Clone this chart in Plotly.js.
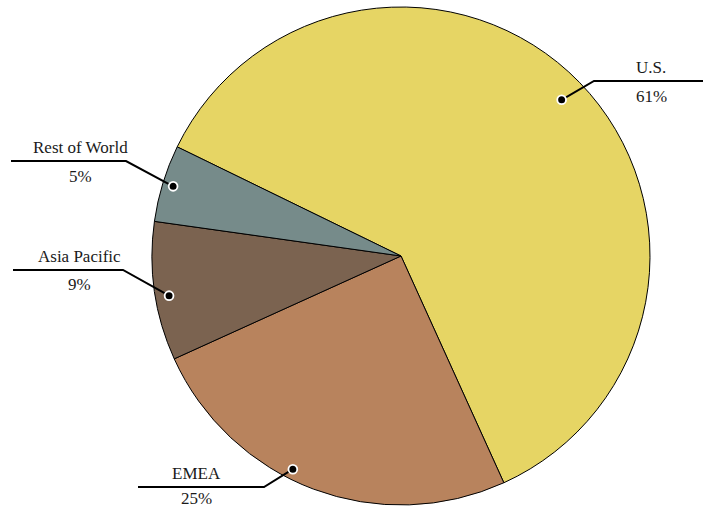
<!DOCTYPE html>
<html>
<head>
<meta charset="utf-8">
<script src="https://cdn.plot.ly/plotly-3.0.1.min.js"></script>
<style>html,body{margin:0;padding:0;background:#fff;}#chart{width:707px;height:508px;}</style>
</head>
<body>
<div id="chart"></div>
<script>
// ---- data ----
const regions = ['U.S.', 'EMEA', 'Asia Pacific', 'Rest of World'];
const shares = [61, 25, 9, 5];
const shareLabels = ['61%', '25%', '9%', '5%'];
const sliceColors = ['#E6D564', '#B8835D', '#7B6350', '#768B8A'];

// ---- layout constants ----
const W = 707, H = 508;
const cx = 401, cy = 256, R = 249;
const rotation = 296;
// per-label leader styling: dot radius fraction, angular nudge, elbow point, line end x, text positions
const leader = [
  {rf: 0.90, da: 0,    ex: 594, ey: 81,  endx: 703, tx: 651, ty1: 67,  ty2: 96},
  {rf: 0.96, da: 6.3,  ex: 264, ey: 487, endx: 138, tx: 196, ty1: 473, ty2: 498},
  {rf: 0.945,da: -1.5, ex: 123, ey: 270, endx: 13,  tx: 79,  ty1: 256, ty2: 284},
  {rf: 0.957,da: 0,    ex: 126, ey: 161, endx: 11,  tx: 80,  ty1: 148, ty2: 176}
];

const px = v => v / W;
const py = v => 1 - v / H;

const total = shares.reduce((a, b) => a + b, 0);
let cum = 0;
const shapes = [], annotations = [];
const font = {family: 'Liberation Serif, Times New Roman, serif', size: 17, color: '#1a1a1a'};
shares.forEach((v, i) => {
  const mid = rotation + 360 * (cum + v / 2) / total + leader[i].da;
  cum += v;
  const a = mid * Math.PI / 180;
  const rr = R * leader[i].rf;
  const dx = cx + rr * Math.sin(a), dy = cy - rr * Math.cos(a);
  const L = leader[i];
  shapes.push({type: 'path', xref: 'paper', yref: 'paper', layer: 'above',
    path: `M ${px(dx)},${py(dy)} L ${px(L.ex)},${py(L.ey)} L ${px(L.endx)},${py(L.ey)}`,
    line: {color: '#000', width: 2}});
  const rd = 4.4;
  shapes.push({type: 'circle', xref: 'paper', yref: 'paper', layer: 'above',
    x0: px(dx - rd), x1: px(dx + rd), y0: py(dy + rd), y1: py(dy - rd),
    fillcolor: '#000', line: {color: '#fff', width: 1.8}});
  annotations.push({text: regions[i], xref: 'paper', yref: 'paper', x: px(L.tx), y: py(L.ty1),
    xanchor: 'center', yanchor: 'middle', showarrow: false, font: font, borderpad: 0});
  annotations.push({text: shareLabels[i], xref: 'paper', yref: 'paper', x: px(L.tx), y: py(L.ty2),
    xanchor: 'center', yanchor: 'middle', showarrow: false, font: font, borderpad: 0});
});

const trace = {
  type: 'pie',
  labels: regions,
  values: shares,
  sort: false,
  direction: 'clockwise',
  rotation: rotation,
  textinfo: 'none',
  hoverinfo: 'label+percent',
  marker: {colors: sliceColors, line: {color: '#000', width: 1}},
  domain: {x: [(cx - R) / W, (cx + R) / W], y: [1 - (cy + R) / H, 1 - (cy - R) / H]},
  showlegend: false
};

const layout = {
  width: W, height: H,
  margin: {l: 0, r: 0, t: 0, b: 0},
  paper_bgcolor: '#fff',
  showlegend: false,
  shapes: shapes,
  annotations: annotations
};

Plotly.newPlot('chart', [trace], layout, {displayModeBar: false, staticPlot: true});
</script>
</body>
</html>
